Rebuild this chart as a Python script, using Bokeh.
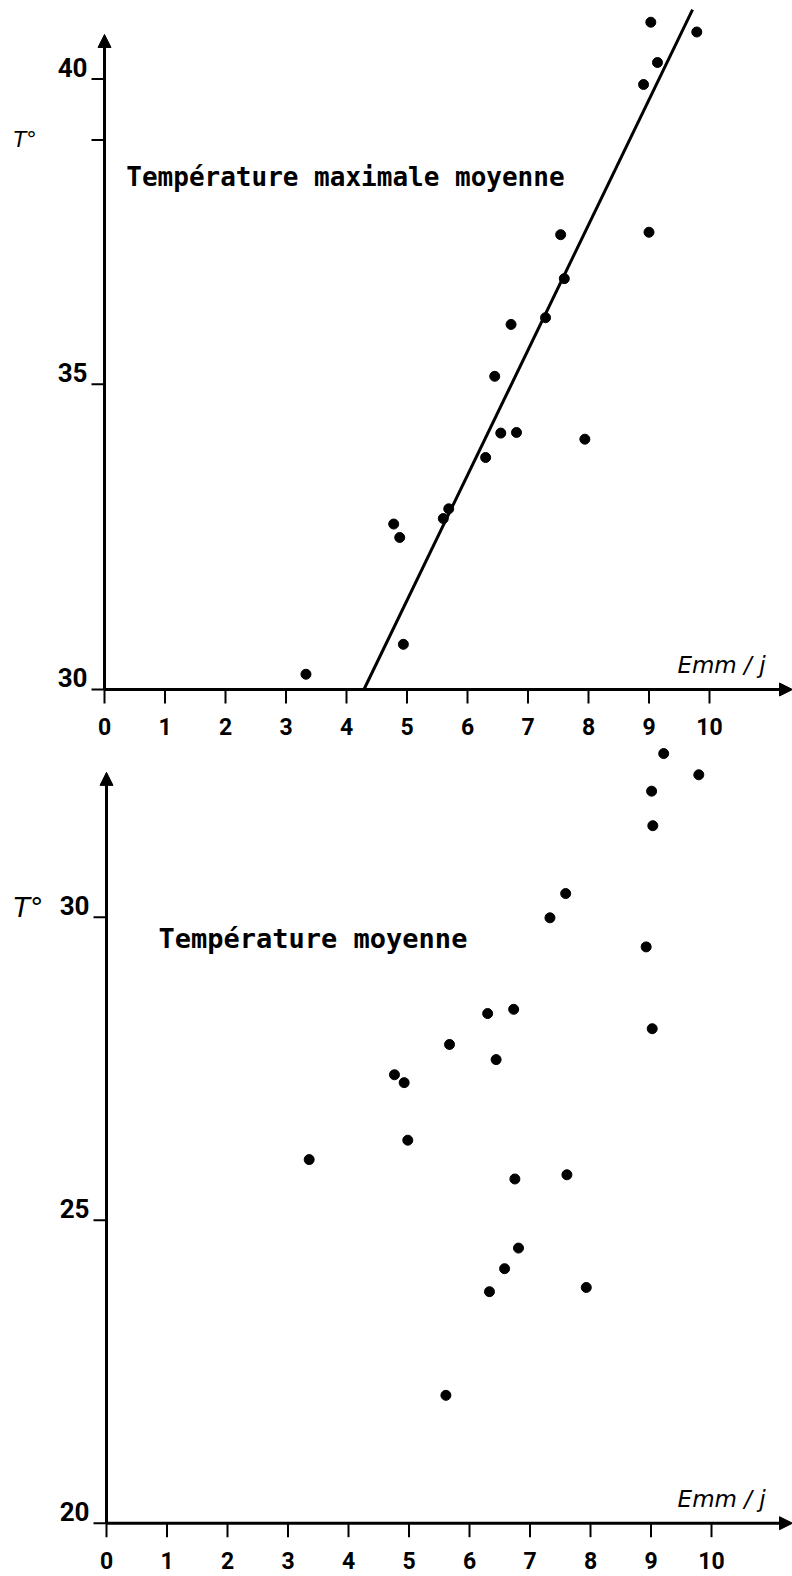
from bokeh.plotting import figure
from bokeh.layouts import column
from bokeh.models import Range1d, Arrow, NormalHead, Label
from bokeh.core.properties import value
from bokeh.embed import file_html
from bokeh.resources import INLINE

# --- Mean maximum temperature vs. evaporation (mm/day) ---
emm_tmax = [9.03, 9.79, 9.14, 8.91, 7.54, 9.00, 7.60, 6.72, 7.29, 6.45,
            6.55, 6.81, 7.94, 6.30, 5.69, 5.60, 4.78, 4.88, 4.94, 3.33]
tmax = [40.93, 40.77, 40.27, 39.91, 37.45, 37.49, 36.73, 35.98, 36.09, 35.13,
        34.20, 34.21, 34.10, 33.80, 32.96, 32.80, 32.71, 32.49, 30.74, 30.25]

# fitted line T = a + b * E, drawn between these abscissae
fit_slope = 2.05
fit_intercept = 21.21
fit_x = [4.29, 9.72]

# --- Mean temperature vs. evaporation (mm/day) ---
emm_tmoy = [9.21, 9.79, 9.01, 9.03, 7.59, 7.33, 8.92, 6.30, 6.73, 9.02,
            5.67, 6.44, 4.76, 4.92, 3.35, 4.98, 6.75, 7.61, 6.81, 6.58,
            6.33, 7.93, 5.61]
tmoy = [32.70, 32.35, 32.08, 31.51, 30.39, 29.99, 29.51, 28.41, 28.48, 28.16,
        27.90, 27.65, 27.40, 27.27, 26.00, 26.32, 25.68, 25.75, 24.54, 24.20,
        23.82, 23.89, 22.11]

x_ticks = [0, 1, 2, 3, 4, 5, 6, 7, 8, 9, 10]
top_y_ticks = [30, 35, 40]
top_y_minor = [39]
bottom_y_ticks = [20, 25, 30]

x_label = "Emm / j"
y_label = "T°"
top_title = "Température maximale moyenne"
bottom_title = "Température moyenne"

INK = "black"
TICK_FONT = "Roboto"
TITLE_FONT = "DejaVu Sans Mono"
WIDTH = 792


class Panel:
    """Axis pair with the origin at (0, y0) and arrowed axes."""

    def __init__(self, height, origin_px, ppu, y0, x_ticks, y_ticks,
                 y_minor, y_tip):
        ox, oy = origin_px
        self.kx, self.ky = ppu
        self.y0 = y0
        x_range = Range1d(-ox / self.kx, (WIDTH - ox) / self.kx)
        y_range = Range1d(y0 - (height - oy) / self.ky, y0 + oy / self.ky)
        p = figure(width=WIDTH, height=height, x_range=x_range,
                   y_range=y_range, x_axis_type=None, y_axis_type=None,
                   output_backend="svg", toolbar_location=None,
                   min_border=0)
        p.outline_line_color = None
        p.grid.visible = False
        p.background_fill_color = "white"
        p.border_fill_color = "white"
        self.p = p
        x_end = x_range.end

        # axes with arrow heads
        head = dict(fill_color=INK, line_color=INK, line_width=1)
        p.add_layout(Arrow(x_start=0, y_start=y0, x_end=x_end, y_end=y0,
                           line_color=INK, line_width=3,
                           end=NormalHead(size=13, **head)))
        p.add_layout(Arrow(x_start=0, y_start=y0, x_end=0, y_end=y_tip,
                           line_color=INK, line_width=3,
                           end=NormalHead(size=13, **head)))

        # x ticks hang below the axis, labels centred underneath
        n = len(x_ticks)
        p.segment(x0=x_ticks, y0=[y0] * n,
                  x1=x_ticks, y1=[y0 - 14 / self.ky] * n,
                  line_color=INK, line_width=2)
        p.text(x=x_ticks, y=[y0 - 37 / self.ky] * n,
               text=[str(t) for t in x_ticks],
               text_font=value(TICK_FONT), text_font_style="bold",
               text_font_size="23px", text_color=INK,
               text_align="center", text_baseline="middle")

        # y ticks point left, labels sit just above their tick
        ticks_all = list(y_ticks) + list(y_minor)
        m = len(ticks_all)
        p.segment(x0=[-13 / self.kx] * m, y0=ticks_all,
                  x1=[0] * m, y1=ticks_all,
                  line_color=INK, line_width=2)
        p.text(x=[-17 / self.kx] * len(y_ticks),
               y=[t + 12 / self.ky for t in y_ticks],
               text=[str(t) for t in y_ticks],
               text_font=value(TICK_FONT), text_font_style="bold",
               text_font_size="26px", text_color=INK,
               text_align="right", text_baseline="middle")

    def label(self, x, y, text, font, size, style="normal"):
        self.p.add_layout(Label(x=x, y=y, text=text, text_font=font,
                                text_font_size=size, text_font_style=style,
                                text_color=INK, text_baseline="middle"))


# ---------------- upper panel ----------------
top = Panel(height=745, origin_px=(104, 689), ppu=(60.5, 61.05), y0=30,
            x_ticks=x_ticks, y_ticks=top_y_ticks, y_minor=top_y_minor,
            y_tip=40.73)
p1 = top.p
p1.line(fit_x, [fit_intercept + fit_slope * e for e in fit_x],
        line_color=INK, line_width=3)
p1.scatter(emm_tmax, tmax, size=10, fill_color=INK, line_color=INK)
top.label(0.36, 38.40, top_title, TITLE_FONT, "26px", "bold")
top.label(-1.504, 39.0, y_label, "DejaVu Sans", "21px", "italic")
top.label(9.47, 30.40, x_label, "DejaVu Sans", "23px", "italic")

# ---------------- lower panel ----------------
bottom = Panel(height=831, origin_px=(106, 777.7), ppu=(60.5, 60.6), y0=20,
               x_ticks=x_ticks, y_ticks=bottom_y_ticks, y_minor=[],
               y_tip=32.39)
p2 = bottom.p
p2.scatter(emm_tmoy, tmoy, size=10, fill_color=INK, line_color=INK)
bottom.label(0.86, 29.65, bottom_title, TITLE_FONT, "27px", "bold")
bottom.label(-1.537, 30.16, y_label, "DejaVu Sans", "27px", "italic")
bottom.label(9.44, 20.40, x_label, "DejaVu Sans", "23px", "italic")

page = column(p1, p2, spacing=0)
open("out.html", "w").write(file_html(page, INLINE))
